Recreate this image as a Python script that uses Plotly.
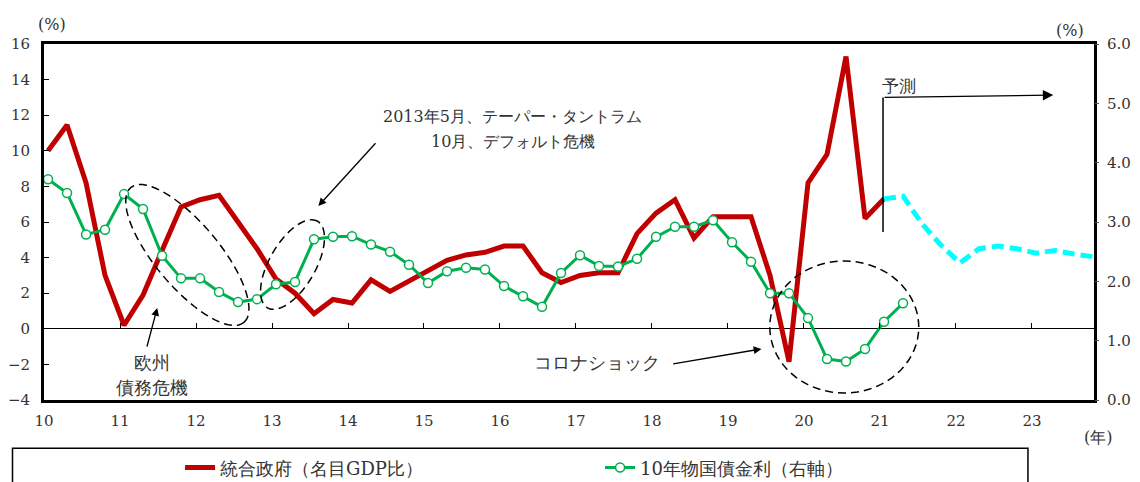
import math

import plotly.graph_objects as go

# quarterly series, first point = 2010 Q1
gov_balance = [10.0, 11.45, 8.2, 3.0, 0.2, 1.9, 4.4, 6.85, 7.25, 7.5, 6.0, 4.5,
               2.8, 2.0, 0.85, 1.65, 1.45, 2.75, 2.1, 2.7, 3.3, 3.85, 4.15, 4.3,
               4.65, 4.65, 3.15, 2.6, 3.0, 3.15, 3.15, 5.35, 6.5, 7.25, 5.1, 6.3,
               6.3, 6.3, 3.0, -1.85, 8.2, 9.8, 15.3, 6.2, 7.3]
# forecast of the same series, first point = 2021 Q1
gov_forecast = [7.3, 7.45, 5.9, 4.7, 3.7, 4.5, 4.65, 4.5, 4.25, 4.4, 4.2, 4.05]
bond_yield = [3.72, 3.49, 2.79, 2.87, 3.47, 3.22, 2.43, 2.05, 2.05, 1.82, 1.65, 1.70,
              1.95, 1.99, 2.71, 2.75, 2.76, 2.62, 2.50, 2.28, 1.97, 2.17, 2.23, 2.20,
              1.92, 1.75, 1.57, 2.14, 2.44, 2.26, 2.25, 2.38, 2.75, 2.92, 2.92, 3.03,
              2.66, 2.33, 1.80, 1.80, 1.38, 0.69, 0.65, 0.86, 1.32, 1.63]
year_ticks = list(range(10, 24))
left_ticks = list(range(-4, 17, 2))

FONT = 'DejaVu Serif'   # Japanese glyphs fall back to the CJK font
TEXT = '#333333'
X_RANGE = [10, 23.816]
Y_RANGE = [-4, 16]
PX_X = 1050 / (X_RANGE[1] - X_RANGE[0])   # pixels per year
PX_Y = 356 / (Y_RANGE[1] - Y_RANGE[0])    # pixels per left-axis unit
# the page body keeps its 8px default margin, so the figure is 8px smaller than the window
FIG_W, FIG_H = 1132, 474


def quarters(start, n):
    return [start + 0.053 + 0.25 * i for i in range(n)]


def ellipse_path(cx, cy, a_px, b_px, angle_deg, steps=72):
    """closed ellipse path in data coords; radii/angle given in screen pixels"""
    th = math.radians(angle_deg)
    pts = []
    for k in range(steps + 1):
        t = 2 * math.pi * k / steps
        u, v = a_px * math.cos(t), b_px * math.sin(t)
        dx = u * math.cos(th) - v * math.sin(th)
        dy = u * math.sin(th) + v * math.cos(th)
        pts.append((cx + dx / PX_X, cy + dy / PX_Y))
    return 'M' + ' L'.join('%.4f,%.4f' % p for p in pts) + ' Z'


fig = go.Figure()
fig.add_trace(go.Scatter(x=quarters(10, len(gov_balance)), y=gov_balance, mode='lines',
                         name='統合政府（名目GDP比）', line=dict(color='#C00000', width=5)))
fig.add_trace(go.Scatter(x=quarters(21, len(gov_forecast)), y=gov_forecast, mode='lines',
                         showlegend=False, line=dict(color='#00FFFF', width=5, dash='12px,6px')))
fig.add_trace(go.Scatter(x=quarters(10, len(bond_yield)), y=bond_yield, mode='lines+markers',
                         name='10年物国債金利（右軸）', yaxis='y2',
                         line=dict(color='#00B050', width=3),
                         marker=dict(symbol='circle', size=9, color='white',
                                     line=dict(color='#00B050', width=1.5))))
# carrier for the tick marks that sit on the zero line
fig.add_trace(go.Scatter(x=[], y=[], xaxis='x2', yaxis='y', showlegend=False))

shapes = [
    dict(type='path', path=ellipse_path(11.886, 4.146, 88, 32, -50)),
    dict(type='path', path=ellipse_path(13.27, 3.61, 50, 23, 60)),
    dict(type='path', path=ellipse_path(20.53, 0.10, 74.5, 66, 0)),
]
for s in shapes:
    s.update(xref='x', yref='y', line=dict(color='black', width=1.5, dash='8px,5px'))
shapes.append(dict(type='line', xref='x', yref='y', x0=21.04, x1=21.04, y0=5.44, y1=13.0,
                   line=dict(color='black', width=1.5)))
# legend frame
shapes.append(dict(type='rect', xref='paper', yref='paper', x0=-0.0300, x1=0.9371,
                   y0=-0.27, y1=-0.1357, line=dict(color='black', width=1.5)))


def label(text, x, y, size=16, ref='x'):
    return dict(text=text, x=x, y=y, xref=ref, yref='y' if ref == 'x' else ref,
                xanchor='center', yanchor='middle', showarrow=False,
                font=dict(family=FONT, size=size, color=TEXT))


def arrow(x_tail, y_tail, x_head, y_head, size=1.2):
    return dict(text='', x=x_head, y=y_head, ax=x_tail, ay=y_tail, xref='x', yref='y',
                axref='x', ayref='y', showarrow=True, arrowhead=2, arrowsize=size,
                arrowwidth=1.3, arrowcolor='black')


annotations = [
    label('(%)', 0.0076, 1.056, 16, 'paper'),
    label('(%)', 0.977, 1.037, 16, 'paper'),
    label('(年)', 1.004, -0.104, 16, 'paper'),
    label('2013年5月、テーパー・タントラム', 16.17, 11.9),
    label('10月、デフォルト危機', 16.17, 10.5),
    label('欧州', 11.42, -1.87, 18),
    label('債務危機', 11.42, -3.27, 18),
    label('コロナショック', 17.28, -1.92, 18),
    label('予測', 21.25, 13.64, 17),
    arrow(14.38, 10.51, 13.61, 6.9),
    arrow(11.35, -1.08, 11.49, 1.17),
    arrow(18.26, -1.98, 19.44, -1.13),
    arrow(21.04, 13.0, 23.28, 13.13, 1.6),
]

fig.update_layout(
    width=FIG_W, height=FIG_H,
    margin=dict(l=36, r=46, t=36, b=82),
    paper_bgcolor='white', plot_bgcolor='white',
    font=dict(family=FONT, size=16, color=TEXT),
    showlegend=True,
    legend=dict(orientation='h', xref='container', yref='container', x=0.152, y=0.03,
                xanchor='left', yanchor='middle',
                entrywidth=375, entrywidthmode='pixels', bgcolor='rgba(0,0,0,0)',
                font=dict(family=FONT, size=18, color=TEXT)),
    xaxis=dict(range=X_RANGE, tickvals=year_ticks, ticks='', showgrid=False, zeroline=False,
               showline=True, mirror=True, linecolor='black', linewidth=3, automargin=False,
               tickfont=dict(size=15), ticklabelstandoff=5),
    xaxis2=dict(range=X_RANGE, overlaying='x', anchor='free', position=0.2, side='bottom',
                tickvals=year_ticks, ticks='inside', ticklen=6, tickcolor='black',
                showticklabels=False, showgrid=False, zeroline=False, showline=False,
                automargin=False),
    yaxis=dict(range=Y_RANGE, tickvals=left_ticks, ticks='inside', ticklen=5, tickcolor='black',
               showgrid=False, zeroline=True, zerolinecolor='black', zerolinewidth=1,
               showline=True, mirror=True, linecolor='black', linewidth=3, automargin=False,
               tickfont=dict(size=15), ticklabelstandoff=8),
    yaxis2=dict(range=[0, 6], dtick=1, tickformat='.1f', overlaying='y', side='right',
                ticks='outside', ticklen=4, tickcolor='#555555', showgrid=False, zeroline=False,
                showline=False, automargin=False, tickfont=dict(size=15),
                ticklabelstandoff=5),
    shapes=shapes,
    annotations=annotations,
)

fig.write_html('out.html')
